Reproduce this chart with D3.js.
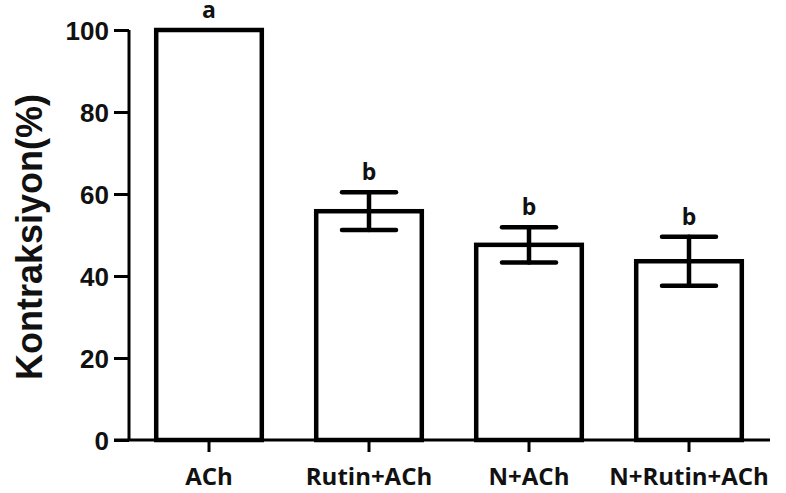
<!DOCTYPE html>
<html>
<head>
<meta charset="utf-8">
<script src="https://cdn.jsdelivr.net/npm/d3@7"></script>
<style>
  body { margin: 0; background: #fff; }
  svg { display: block; }
</style>
</head>
<body>
<script>
// values
var groups = ["ACh", "Rutin+ACh", "N+ACh", "N+Rutin+ACh"];
var means = [100, 55.8, 47.6, 43.6];
var errs = [0, 4.6, 4.3, 6.0];
var letters = ["a", "b", "b", "b"];
var yTicks = [0, 20, 40, 60, 80, 100];

var width = 786, height = 493;

var svg = d3.select("body").append("svg")
    .attr("width", width)
    .attr("height", height);

var x = d3.scaleBand()
    .domain(groups)
    .range([129, 769])
    .paddingInner(0.34)
    .paddingOuter(0.17);

var y = d3.scaleLinear()
    .domain([0, 100])
    .range([440, 30]);

var data = groups.map(function(g, i) {
  return { name: g, mean: means[i], err: errs[i], letter: letters[i] };
});

// bars
svg.selectAll(".bar")
    .data(data)
  .enter().append("rect")
    .attr("class", "bar")
    .attr("x", function(d) { return x(d.name); })
    .attr("y", function(d) { return y(d.mean); })
    .attr("width", x.bandwidth())
    .attr("height", function(d) { return y(0) - y(d.mean); })
    .attr("fill", "#fff")
    .attr("stroke", "#000")
    .attr("stroke-width", 4.5);

// error bars
var eb = svg.selectAll(".err")
    .data(data.filter(function(d) { return d.err > 0; }))
  .enter().append("g")
    .attr("class", "err")
    .attr("stroke", "#000")
    .attr("stroke-width", 4.5)
    .attr("stroke-linecap", "round");

eb.append("line")
    .attr("x1", function(d) { return x(d.name) + x.bandwidth() / 2; })
    .attr("x2", function(d) { return x(d.name) + x.bandwidth() / 2; })
    .attr("y1", function(d) { return y(d.mean + d.err); })
    .attr("y2", function(d) { return y(d.mean - d.err); });

[1, -1].forEach(function(s) {
  eb.append("line")
      .attr("x1", function(d) { return x(d.name) + x.bandwidth() / 2 - 27; })
      .attr("x2", function(d) { return x(d.name) + x.bandwidth() / 2 + 27; })
      .attr("y1", function(d) { return y(d.mean + s * d.err); })
      .attr("y2", function(d) { return y(d.mean + s * d.err); });
});

// significance letters
svg.selectAll(".letter")
    .data(data)
  .enter().append("text")
    .attr("class", "letter")
    .attr("x", function(d) { return x(d.name) + x.bandwidth() / 2; })
    .attr("y", function(d) { return y(d.mean + d.err) - 12; })
    .attr("text-anchor", "middle")
    .style("font-family", "'Open Sans', sans-serif")
    .style("font-weight", "700")
    .style("font-size", "23px")
    .style("fill", "#111")
    .text(function(d) { return d.letter; });

// y axis
var yAxis = d3.axisLeft(y)
    .tickValues(yTicks)
    .tickSize(15)
    .tickPadding(5);

var gy = svg.append("g")
    .attr("transform", "translate(129,0)")
    .call(yAxis);
gy.select(".domain").attr("stroke-width", 3).attr("d", "M0,30V440");
gy.selectAll(".tick line").attr("stroke-width", 3);
gy.selectAll(".tick text")
    .style("font-family", "'Liberation Sans', Arial, sans-serif")
    .style("font-weight", "700")
    .style("font-size", "26px")
    .attr("dy", "0.36em")
    .attr("fill", "#111");

// x axis
var xAxis = d3.axisBottom(x)
    .tickSize(12)
    .tickPadding(16);

var gx = svg.append("g")
    .attr("transform", "translate(0,440)")
    .call(xAxis);
gx.select(".domain").attr("stroke-width", 3).attr("d", "M114,0H770");
gx.selectAll(".tick line").attr("stroke-width", 3);
gx.selectAll(".tick text")
    .style("font-family", "'Open Sans', sans-serif")
    .style("font-weight", "700")
    .style("font-size", "24px")
    .attr("fill", "#111");

// y axis title
svg.append("text")
    .attr("transform", "translate(42,237) rotate(-90)")
    .attr("text-anchor", "middle")
    .style("font-family", "'Liberation Sans', Arial, sans-serif")
    .style("font-weight", "700")
    .style("font-size", "36px")
    .attr("fill", "#111")
    .text("Kontraksiyon(%)");
</script>
</body>
</html>
